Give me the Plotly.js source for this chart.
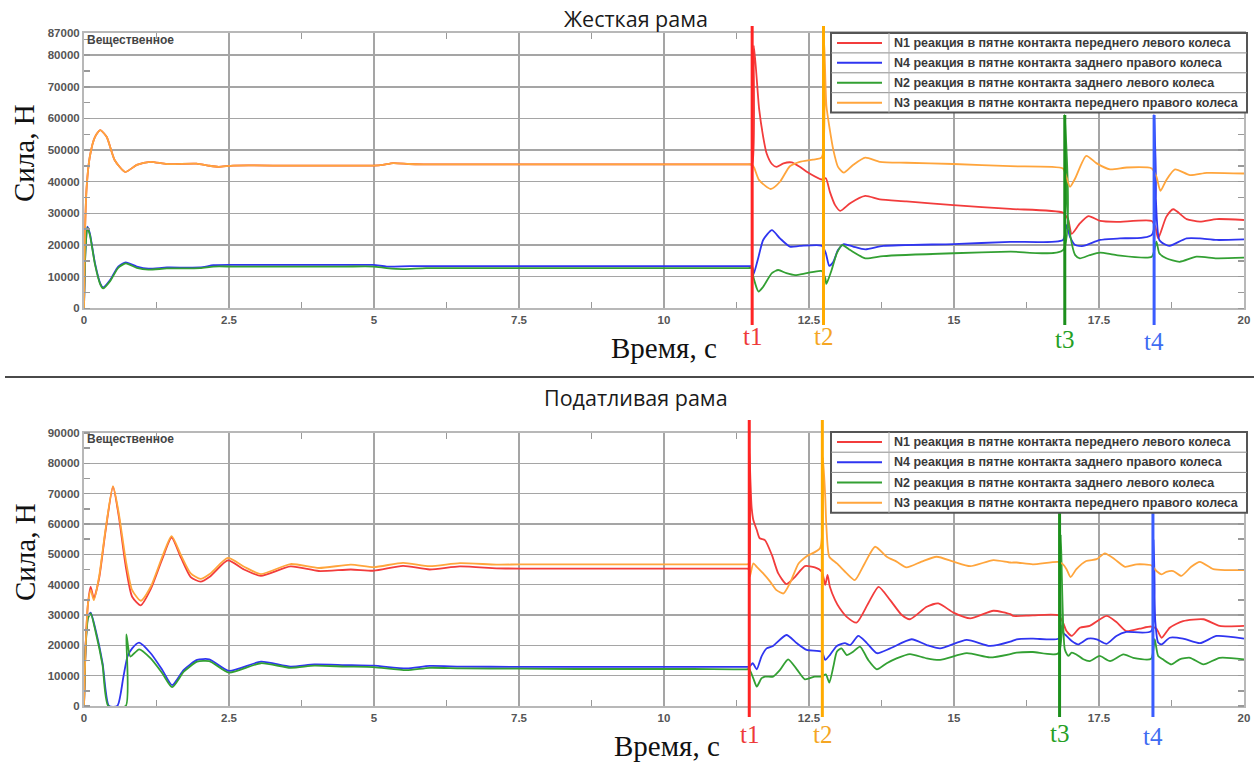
<!DOCTYPE html>
<html>
<head>
<meta charset="utf-8">
<script src="https://cdn.plot.ly/plotly-3.0.1.min.js"></script>
<style>html,body{margin:0;padding:0;background:#fff;}#chart{width:1254px;height:765px;}</style>
</head>
<body>
<div id="chart"></div>
<script>
// ---------- DATA ----------
const seriesNames = [
  'N1 реакция в пятне контакта переднего левого колеса',
  'N4 реакция в пятне контакта заднего правого колеса',
  'N2 реакция в пятне контакта заднего левого колеса',
  'N3 реакция в пятне контакта переднего правого колеса'
];
const chartTitles = ['Жесткая рама', 'Податливая рама'];
const yTitle = 'Сила, Н';
const xTitle = 'Время, с';
const tagText = 'Вещественное';
const eventLabels = ['t1', 't2', 't3', 't4'];
const eventTimesRigid = [11.52, 12.75, 16.91, 18.45];
const eventTimesFlex = [11.47, 12.73, 16.82, 18.43];
const rigidYTicks = [0,10000,20000,30000,40000,50000,60000,70000,80000,87000];
const flexYTicks = [0,10000,20000,30000,40000,50000,60000,70000,80000,90000];

// Rigid frame (top)
const rigidTimeN1 = [0,0.017,0.046,0.10,0.19,0.28,0.39,0.53,0.71,0.91,1.14,1.43,1.94,2.14,2.32,2.57,3.5,4.5,4.99,5.15,5.33,5.6,5.85,7.0,9.0,11.0,11.45,11.52,11.55,11.64,11.71,11.77,11.86,11.94,12.06,12.2,12.34,12.51,12.72,12.79,12.86,12.95,13.04,13.21,13.47,13.72,14.18,14.99,15.97,16.88,16.97,17.03,17.17,17.32,17.52,17.8,18.41,18.47,18.52,18.66,18.78,19.01,19.24,19.53,20];
const rigidN1 = [0,23700,38400,47900,54200,56300,54200,46800,43100,45300,46300,45600,45700,45100,44700,45100,45100,45100,45100,45300,45900,45600,45500,45500,45500,45500,45500,45500,83000,63000,54200,48900,45600,44700,45800,46100,44700,42600,40700,41100,36800,32600,30800,33200,35500,34400,33800,32600,31400,30200,27900,23500,26800,29100,27600,27300,27600,25800,22100,28900,31300,28200,27400,28200,27900];
const rigidTimeN4 = [0,0.023,0.057,0.10,0.19,0.28,0.33,0.45,0.59,0.72,0.91,1.11,1.43,2.0,2.23,2.57,3.5,4.5,4.99,5.22,5.62,7.0,9.0,11.0,11.45,11.52,11.54,11.63,11.71,11.86,12.0,12.17,12.34,12.72,12.79,12.85,12.92,13.0,13.1,13.26,13.47,13.78,14.99,15.97,16.88,16.94,17.0,17.09,17.23,17.52,17.86,18.41,18.45,18.48,18.54,18.66,18.72,19.01,19.24,19.53,20];
const rigidN4 = [0,17400,25800,23700,14200,7900,6600,8900,13200,14500,13200,12500,12900,12900,13600,13700,13700,13700,13700,13200,13300,13300,13300,13300,13300,13300,10500,16300,21600,24700,22100,19500,19700,19800,17400,13400,14700,18400,20300,19500,18600,19700,20300,21000,21600,26300,22600,20000,19700,21600,22100,23200,61000,35000,21600,20000,19700,22100,22100,21600,21800];
const rigidTimeN2 = [0,0.023,0.057,0.10,0.19,0.28,0.33,0.45,0.59,0.72,0.91,1.11,1.43,2.0,2.23,2.57,3.5,4.5,4.99,5.22,5.5,5.9,7.0,9.0,11.0,11.45,11.52,11.54,11.63,11.71,11.86,11.97,12.11,12.26,12.46,12.72,12.78,12.80,12.89,12.98,13.07,13.21,13.47,13.78,14.99,15.97,16.88,16.91,16.95,17.03,17.09,17.17,17.34,17.52,17.8,18.41,18.49,18.54,18.66,18.89,19.18,19.53,20];
const rigidN2 = [0,17000,25500,23300,13800,7600,6300,8600,12800,14200,12800,12200,12600,12700,13200,13200,13200,13200,13200,12700,12400,12700,12700,12700,12700,12700,12700,10000,5300,6800,11100,12100,11100,10500,11100,11800,9500,7700,12100,17400,20000,18400,15800,16500,17400,17900,18400,61000,32000,20500,16800,15800,16800,17600,16800,16300,21100,17400,15800,14700,16300,15800,16000];
const rigidTimeN3 = [0,0.017,0.046,0.10,0.19,0.28,0.39,0.53,0.71,0.91,1.14,1.43,1.94,2.14,2.32,2.57,3.5,4.5,4.99,5.15,5.33,5.6,5.85,7.0,9.0,11.0,11.45,11.52,11.56,11.64,11.84,12.0,12.17,12.34,12.57,12.72,12.76,12.80,12.86,12.92,13.0,13.1,13.26,13.47,13.72,14.18,14.99,15.97,16.88,16.93,17.0,17.09,17.28,17.46,17.69,17.98,18.41,18.49,18.56,18.66,18.81,19.07,19.36,20];
const rigidN3 = [0,23700,38400,47900,54200,56300,54200,46800,43100,45300,46300,45600,45700,45100,44700,45100,45100,45100,45100,45300,45900,45600,45500,45500,45500,45500,45500,45500,44200,40500,37700,40000,44900,46300,47000,47700,85000,64000,56300,50000,44700,42900,45300,47600,46300,46000,45600,44900,44200,42000,38400,41100,48200,45800,43900,44500,44200,41600,37100,40500,43900,42100,42800,42600];

// Compliant frame (bottom)
const flexTimeN1 = [0,0.03,0.07,0.115,0.17,0.26,0.37,0.50,0.60,0.72,0.83,0.98,1.15,1.35,1.51,1.67,1.84,2.01,2.18,2.48,2.76,3.05,3.56,4.05,4.6,5.0,5.5,5.96,6.48,7.11,7.52,8.5,9.5,10.5,11.2,11.42,11.46,11.47,11.49,11.51,11.54,11.6,11.65,11.74,11.86,11.97,12.11,12.26,12.43,12.6,12.72,12.78,12.82,12.86,12.95,13.03,13.15,13.32,13.52,13.70,13.90,14.10,14.24,14.53,14.73,14.99,15.28,15.68,15.97,16.02,16.36,16.8,16.88,16.94,17.03,17.17,17.34,17.63,17.8,17.97,18.2,18.4,18.49,18.58,18.72,18.95,19.3,19.58,20];
const flexN1 = [0,20500,34000,39300,35500,42000,57500,72300,62500,46000,36000,33200,38500,48500,55500,49000,42500,41000,42800,48000,45000,42900,46000,44500,45000,44600,46200,45000,46000,45400,45300,45300,45300,45300,45300,45300,45300,85000,74500,65700,61300,58000,55300,54700,49800,43700,40200,42600,46100,45700,44300,39900,43200,39300,34900,32200,29400,27500,33800,39300,34900,30000,28600,32700,33800,30800,28900,31400,30300,29700,29900,29900,27500,24700,23100,25800,26400,29700,27700,24700,25500,26200,25500,22500,25800,28000,28600,26400,26400];
const flexTimeN4 = [0,0.03,0.07,0.115,0.2,0.32,0.43,0.575,0.68,0.75,0.83,0.95,1.15,1.35,1.52,1.72,1.95,2.16,2.5,3.05,3.56,3.97,4.5,4.99,5.56,5.96,6.5,7.5,8.5,9.5,10.5,11.2,11.42,11.47,11.53,11.6,11.68,11.77,11.88,12.11,12.29,12.46,12.72,12.78,12.86,12.98,13.12,13.21,13.35,13.49,13.67,13.9,14.27,14.53,14.76,15.22,15.62,15.97,16.08,16.36,16.8,16.85,16.88,16.94,17.03,17.14,17.31,17.46,17.63,17.8,17.97,18.4,18.44,18.47,18.52,18.58,18.72,18.95,19.24,19.53,20];
const flexN4 = [0,20700,29500,30800,25100,14100,0,0,9700,16300,19000,20900,17400,11900,6900,11900,15200,15400,11600,14600,13000,13700,13500,13300,12400,13200,13000,12900,12900,12900,12900,12900,12900,12900,14100,12100,16300,19000,19800,23400,20700,18500,17900,15200,16800,19800,20700,20100,23100,20900,17400,19000,22000,20100,19000,21800,19800,21200,22000,22200,22200,26400,24200,23100,21400,20300,22200,22000,20500,23100,24400,24700,55000,28000,20900,20300,22500,22200,20700,23100,22200];
const flexTimeN2 = [0,0.03,0.07,0.115,0.2,0.32,0.42,0.72,0.73,0.80,0.95,1.15,1.35,1.52,1.72,1.95,2.16,2.5,3.05,3.56,3.97,4.5,4.99,5.56,5.96,6.5,7.5,8.5,9.5,10.5,11.2,11.42,11.47,11.54,11.6,11.68,11.74,11.88,12.0,12.14,12.29,12.43,12.6,12.72,12.79,12.85,12.92,12.98,13.06,13.15,13.26,13.38,13.52,13.67,13.84,14.01,14.24,14.53,14.76,15.22,15.62,15.97,16.08,16.36,16.8,16.84,16.91,16.97,17.03,17.11,17.23,17.34,17.51,17.69,17.92,18.09,18.4,18.46,18.52,18.6,18.75,18.89,19.07,19.3,19.58,20];
const flexN2 = [0,20000,29000,30500,24500,13500,0,0,23600,16300,18700,15700,10800,6200,11300,14600,14800,11000,14100,12600,13300,13000,12800,11800,12600,12400,12300,12200,12200,12200,12100,12100,12100,9100,6400,9100,9700,9700,11900,15400,12100,8800,9700,9700,10400,7700,13000,17900,19000,16800,17900,19600,15200,12100,14100,15700,17100,15700,15200,17400,16000,17100,17600,17800,17400,56600,18700,16500,17600,17000,15400,14800,16500,14800,17000,15900,15600,22000,16500,15400,13700,15400,15900,13700,15900,15400];
const flexTimeN3 = [0,0.03,0.07,0.115,0.17,0.26,0.37,0.50,0.60,0.72,0.83,0.98,1.15,1.35,1.51,1.67,1.84,2.01,2.18,2.48,2.76,3.05,3.56,4.05,4.6,5.0,5.5,5.96,6.48,7.11,7.52,8.5,9.5,10.5,11.2,11.42,11.46,11.48,11.54,11.6,11.71,11.83,11.94,12.06,12.17,12.32,12.46,12.69,12.74,12.78,12.8,12.85,12.98,13.15,13.29,13.46,13.64,13.84,14.01,14.18,14.44,14.7,14.99,15.28,15.68,15.97,16.08,16.36,16.8,16.88,16.94,17.01,17.11,17.28,17.46,17.6,17.77,17.95,18.15,18.4,18.49,18.58,18.66,18.78,18.92,19.09,19.24,19.47,19.7,20];
const flexN3 = [0,20700,33800,38200,34900,42600,58000,72500,63500,48100,38200,34700,39300,49200,56000,49800,43700,41900,43700,48800,45900,43500,46800,45500,46600,45800,47200,46100,47100,46600,46700,46700,46700,46700,46700,46700,46700,42600,47000,45900,43700,41000,38200,37100,40400,47000,49400,52000,82000,69000,59100,49200,47000,43700,41500,47000,52500,49200,47600,45700,47600,49200,47600,46100,48100,47300,47300,46700,47500,46700,45100,42500,45100,47800,48400,50300,48400,45900,46700,46400,44500,43400,44200,44500,42900,45900,47500,45100,44800,44800];

// ---------- STYLE / LAYOUT ----------
const W = 1254, H = 765;
const px = v => v / W;
const py = v => 1 - v / H;
const seriesColors = ['#f23c3c', '#2f35f0', '#33a033', '#ffa53c'];
const eventLineColors = ['#ff2424', '#ffab00', '#1c8f1c', '#3a5cff'];
const eventTextColors = ['#ee3a3a', '#f5a623', '#25a025', '#3f6cf2'];

function traces(times, vals, xa, ya) {
  return times.map((t, i) => ({
    type: 'scatter', mode: 'lines', x: t, y: vals[i], name: seriesNames[i],
    xaxis: xa, yaxis: ya, showlegend: false, hoverinfo: 'skip',
    line: {color: seriesColors[i], width: 1.8, shape: 'spline', smoothing: 0.6}
  }));
}
const data = [].concat(
  traces([rigidTimeN1, rigidTimeN4, rigidTimeN2, rigidTimeN3], [rigidN1, rigidN4, rigidN2, rigidN3], 'x', 'y'),
  traces([flexTimeN1, flexTimeN4, flexTimeN2, flexTimeN3], [flexN1, flexN4, flexN2, flexN3], 'x2', 'y2')
);

const tickFont = {family: 'Liberation Sans, Arial, sans-serif', size: 11.5, color: '#555', weight: 'bold'};
const axBase = {
  showgrid: true, gridcolor: '#a5a5a5', gridwidth: 1.5, zeroline: false,
  showline: true, linecolor: '#b8b8b8', linewidth: 2, mirror: 'ticks', ticks: '',
  tickfont: tickFont, fixedrange: true, automargin: false
};
const xMinor = {tick0: 0, dtick: 1.25, ticks: 'inside', ticklen: 6, tickwidth: 1.5, tickcolor: '#999', showgrid: false};
const yMinor = {tickmode: 'linear', tick0: 0, dtick: 5000, ticks: 'inside', ticklen: 6, tickwidth: 1.5, tickcolor: '#999', showgrid: false};

const layout = {
  width: W, height: H, margin: {l: 0, r: 0, t: 0, b: 0},
  paper_bgcolor: '#fff', plot_bgcolor: '#fff', showlegend: false,
  xaxis: Object.assign({}, axBase, {domain: [px(84), px(1244)], range: [0, 20], tick0: 0, dtick: 2.5, anchor: 'y', minor: xMinor}),
  yaxis: Object.assign({}, axBase, {domain: [py(308.3), py(33)], range: [0, 87000], tickmode: 'array', tickvals: rigidYTicks, tickformat: 'd', anchor: 'x', minor: yMinor}),
  xaxis2: Object.assign({}, axBase, {domain: [px(84), px(1244)], range: [0, 20], tick0: 0, dtick: 2.5, anchor: 'y2', minor: xMinor}),
  yaxis2: Object.assign({}, axBase, {domain: [py(706), py(433)], range: [0, 90000], tickmode: 'array', tickvals: flexYTicks, tickformat: 'd', anchor: 'x2', minor: yMinor}),
  shapes: [], annotations: []
};

const S = layout.shapes, A = layout.annotations;
// divider
S.push({type: 'line', xref: 'paper', yref: 'paper', x0: px(5), x1: 1, y0: py(377), y1: py(377), line: {color: '#4a4a4a', width: 2}});

// event markers
function events(times, xa, topA, topB, bottom, labelY) {
  times.forEach((t, i) => {
    const top = i < 2 ? topA : topB;
    S.push({type: 'line', xref: xa, yref: 'paper', x0: t, x1: t, y0: py(bottom), y1: py(top), line: {color: eventLineColors[i], width: 3}, layer: 'above'});
    A.push({xref: xa, yref: 'paper', x: t, y: py(labelY[i]), text: eventLabels[i], showarrow: false, xanchor: 'center', yanchor: 'middle',
      font: {family: 'Liberation Serif, Times New Roman, serif', size: 25, color: eventTextColors[i]}});
  });
}
events(eventTimesRigid, 'x', 26, 115, 325, [336, 336, 339, 341]);
events(eventTimesFlex, 'x2', 420, 512, 717, [734, 734, 733, 736]);

// legend tables
function legendBox(top, rowH) {
  const left = 831, right = 1247, sep = 889;
  const bottom = top + rowH * 4;
  S.push({type: 'rect', xref: 'paper', yref: 'paper', x0: px(left), x1: px(right), y0: py(bottom), y1: py(top), fillcolor: '#fff', line: {color: '#555', width: 2}, layer: 'above'});
  for (let r = 1; r < 4; r++) {
    S.push({type: 'line', xref: 'paper', yref: 'paper', x0: px(left), x1: px(right), y0: py(top + r * rowH), y1: py(top + r * rowH), line: {color: '#8a8a8a', width: 1}, layer: 'above'});
  }
  S.push({type: 'line', xref: 'paper', yref: 'paper', x0: px(sep), x1: px(sep), y0: py(bottom), y1: py(top), line: {color: '#b0b0b0', width: 1}, layer: 'above'});
  for (let r = 0; r < 4; r++) {
    const cy = top + rowH * (r + 0.5);
    S.push({type: 'line', xref: 'paper', yref: 'paper', x0: px(837), x1: px(882), y0: py(cy), y1: py(cy), line: {color: seriesColors[r], width: 2}, layer: 'above'});
    A.push({xref: 'paper', yref: 'paper', x: px(892), y: py(cy), text: seriesNames[r], showarrow: false, xanchor: 'left', yanchor: 'middle',
      font: {family: 'Liberation Sans, Arial, sans-serif', size: 12.5, color: '#3a3a3a', weight: 'bold'}});
  }
}
legendBox(33, 19.9);
legendBox(432, 20.2);

// texts
const titleFont = {family: 'Open Sans, sans-serif', size: 21.5, color: '#1a1a1a'};
const serifFont = {family: 'Liberation Serif, Times New Roman, serif', size: 29, color: '#111'};
const tagFont = {family: 'Liberation Sans, Arial, sans-serif', size: 12, color: '#444', weight: 'bold'};
A.push({xref: 'paper', yref: 'paper', x: px(636), y: py(18), text: chartTitles[0], showarrow: false, xanchor: 'center', yanchor: 'middle', font: titleFont});
A.push({xref: 'paper', yref: 'paper', x: px(636), y: py(397), text: chartTitles[1], showarrow: false, xanchor: 'center', yanchor: 'middle', font: titleFont});
A.push({xref: 'paper', yref: 'paper', x: px(24), y: py(153), text: yTitle, textangle: -90, showarrow: false, xanchor: 'center', yanchor: 'middle', font: serifFont});
A.push({xref: 'paper', yref: 'paper', x: px(25), y: py(552), text: yTitle, textangle: -90, showarrow: false, xanchor: 'center', yanchor: 'middle', font: serifFont});
A.push({xref: 'paper', yref: 'paper', x: px(664), y: py(348), text: xTitle, showarrow: false, xanchor: 'center', yanchor: 'middle', font: serifFont});
A.push({xref: 'paper', yref: 'paper', x: px(667), y: py(746), text: xTitle, showarrow: false, xanchor: 'center', yanchor: 'middle', font: serifFont});
A.push({xref: 'paper', yref: 'paper', x: px(85), y: py(39.5), text: tagText, showarrow: false, xanchor: 'left', yanchor: 'middle', font: tagFont});
A.push({xref: 'paper', yref: 'paper', x: px(85), y: py(438.7), text: tagText, showarrow: false, xanchor: 'left', yanchor: 'middle', font: tagFont});

Plotly.newPlot('chart', data, layout, {displayModeBar: false, staticPlot: true});
</script>
</body>
</html>
